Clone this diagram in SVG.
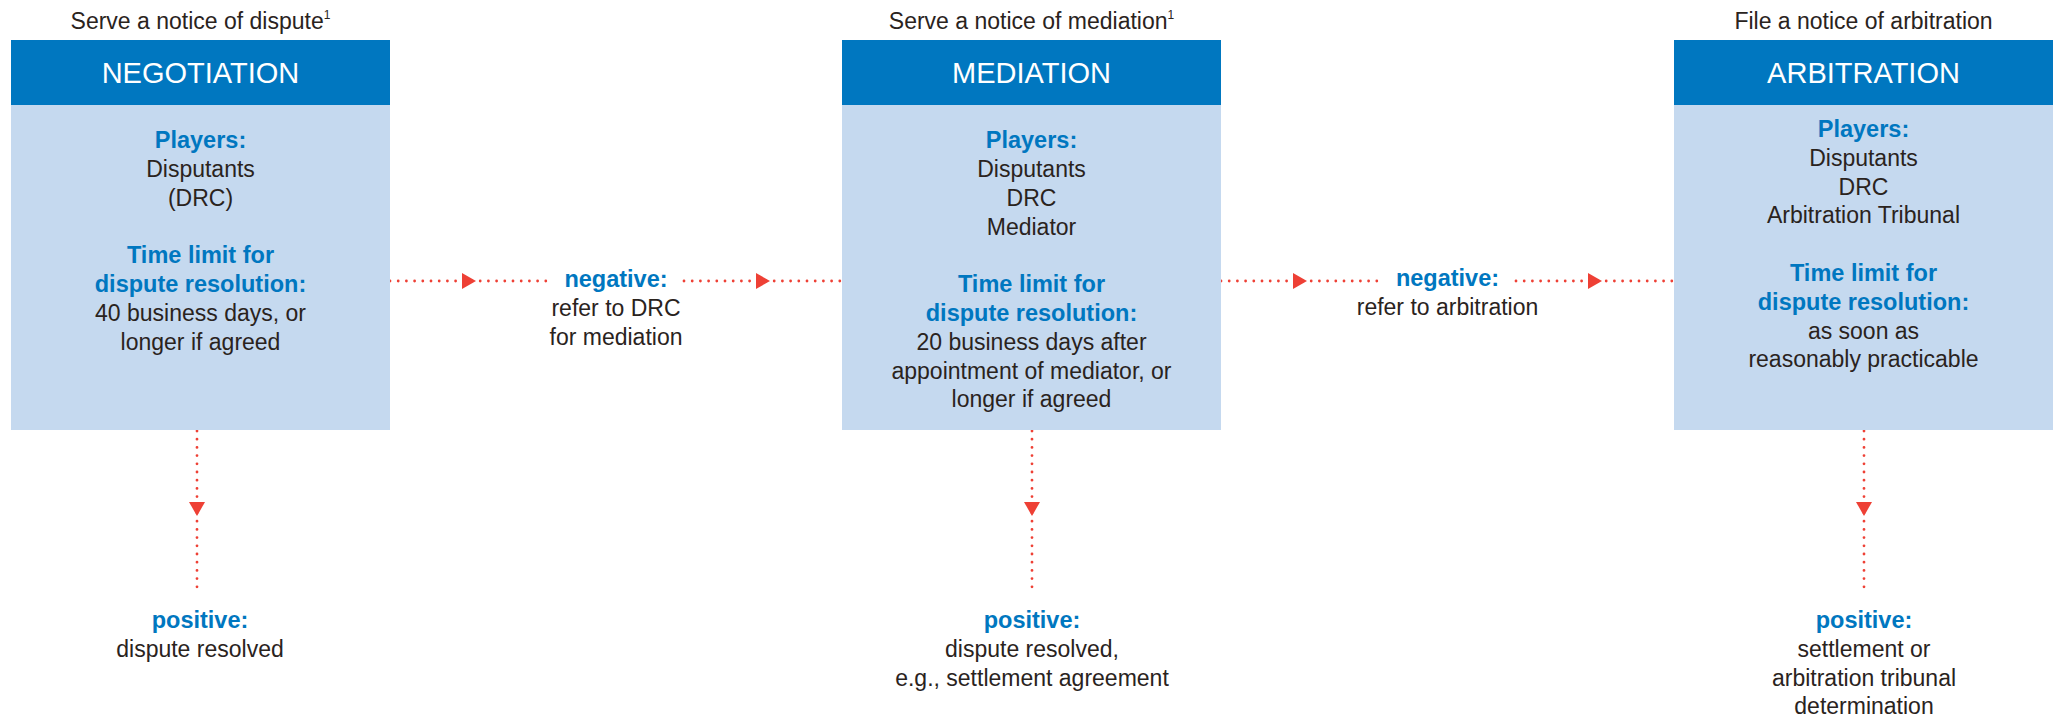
<svg xmlns="http://www.w3.org/2000/svg" width="2061" height="718" viewBox="0 0 2061 718">
<style>
text{font-family:"Liberation Sans",Arial,sans-serif;font-size:23px;fill:#2a231d;text-anchor:middle}
.hd{fill:#0077c0}
.bd{fill:#c5d9ef}
.ht{fill:#ffffff;font-size:29px}
.b{fill:#0077c0;font-weight:bold;font-size:23.5px}
.sup{font-size:12px}
.con{fill:none;stroke:#ee4035;stroke-width:2.8;stroke-linecap:round;stroke-dasharray:0 8.2;marker-mid:url(#ah)}
</style>
<defs>
<marker id="ah" viewBox="0 0 14 16" refX="7" refY="8" markerWidth="14" markerHeight="16" markerUnits="userSpaceOnUse" orient="auto">
<path d="M0 0 L14 8 L0 16 Z" fill="#ee4035"/>
</marker>
</defs>
<rect width="2061" height="718" fill="#ffffff"/>
<g id="connectors">
<path class="con" d="M390 281 L469 281 L548 281"/>
<path class="con" d="M684 281 L763 281 L842 281"/>
<path class="con" d="M1221 281 L1300 281 L1379 281"/>
<path class="con" d="M1516 281 L1595 281 L1674 281"/>
<path class="con" d="M197 431 L197 509 L197 588"/>
<path class="con" d="M1032 431 L1032 509 L1032 588"/>
<path class="con" d="M1864 431 L1864 509 L1864 588"/>
</g>
<g id="negotiation">
<text x="200.5" y="29">Serve a notice of dispute<tspan class="sup" dy="-10">1</tspan></text>
<rect class="bd" x="11" y="40" width="379" height="390"/>
<rect class="hd" x="11" y="40" width="379" height="65"/>
<text class="ht" x="200.5" y="83">NEGOTIATION</text>
<text class="b" x="200.5" y="148">Players:</text>
<text x="200.5" y="177">Disputants</text>
<text x="200.5" y="206">(DRC)</text>
<text class="b" x="200.5" y="263">Time limit for</text>
<text class="b" x="200.5" y="292">dispute resolution:</text>
<text x="200.5" y="321">40 business days, or</text>
<text x="200.5" y="350">longer if agreed</text>
</g>
<g id="mediation">
<text x="1031.5" y="29">Serve a notice of mediation<tspan class="sup" dy="-10">1</tspan></text>
<rect class="bd" x="842" y="40" width="379" height="390"/>
<rect class="hd" x="842" y="40" width="379" height="65"/>
<text class="ht" x="1031.5" y="83">MEDIATION</text>
<text class="b" x="1031.5" y="148">Players:</text>
<text x="1031.5" y="177">Disputants</text>
<text x="1031.5" y="206">DRC</text>
<text x="1031.5" y="235">Mediator</text>
<text class="b" x="1031.5" y="292">Time limit for</text>
<text class="b" x="1031.5" y="321">dispute resolution:</text>
<text x="1031.5" y="350">20 business days after</text>
<text x="1031.5" y="379">appointment of mediator, or</text>
<text x="1031.5" y="407">longer if agreed</text>
</g>
<g id="arbitration">
<text x="1863.5" y="29">File a notice of arbitration</text>
<rect class="bd" x="1674" y="40" width="379" height="390"/>
<rect class="hd" x="1674" y="40" width="379" height="65"/>
<text class="ht" x="1863.5" y="83">ARBITRATION</text>
<text class="b" x="1863.5" y="137">Players:</text>
<text x="1863.5" y="166">Disputants</text>
<text x="1863.5" y="195">DRC</text>
<text x="1863.5" y="223">Arbitration Tribunal</text>
<text class="b" x="1863.5" y="281">Time limit for</text>
<text class="b" x="1863.5" y="310">dispute resolution:</text>
<text x="1863.5" y="339">as soon as</text>
<text x="1863.5" y="367">reasonably practicable</text>
</g>
<g id="negative1">
<text class="b" x="616" y="287">negative:</text>
<text x="616" y="316">refer to DRC</text>
<text x="616" y="345">for mediation</text>
</g>
<g id="negative2">
<text class="b" x="1447.5" y="286">negative:</text>
<text x="1447.5" y="315">refer to arbitration</text>
</g>
<g id="positive1">
<text class="b" x="200" y="628">positive:</text>
<text x="200" y="657">dispute resolved</text>
</g>
<g id="positive2">
<text class="b" x="1032" y="628">positive:</text>
<text x="1032" y="657">dispute resolved,</text>
<text x="1032" y="686">e.g., settlement agreement</text>
</g>
<g id="positive3">
<text class="b" x="1864" y="628">positive:</text>
<text x="1864" y="657">settlement or</text>
<text x="1864" y="686">arbitration tribunal</text>
<text x="1864" y="714">determination</text>
</g>
</svg>
